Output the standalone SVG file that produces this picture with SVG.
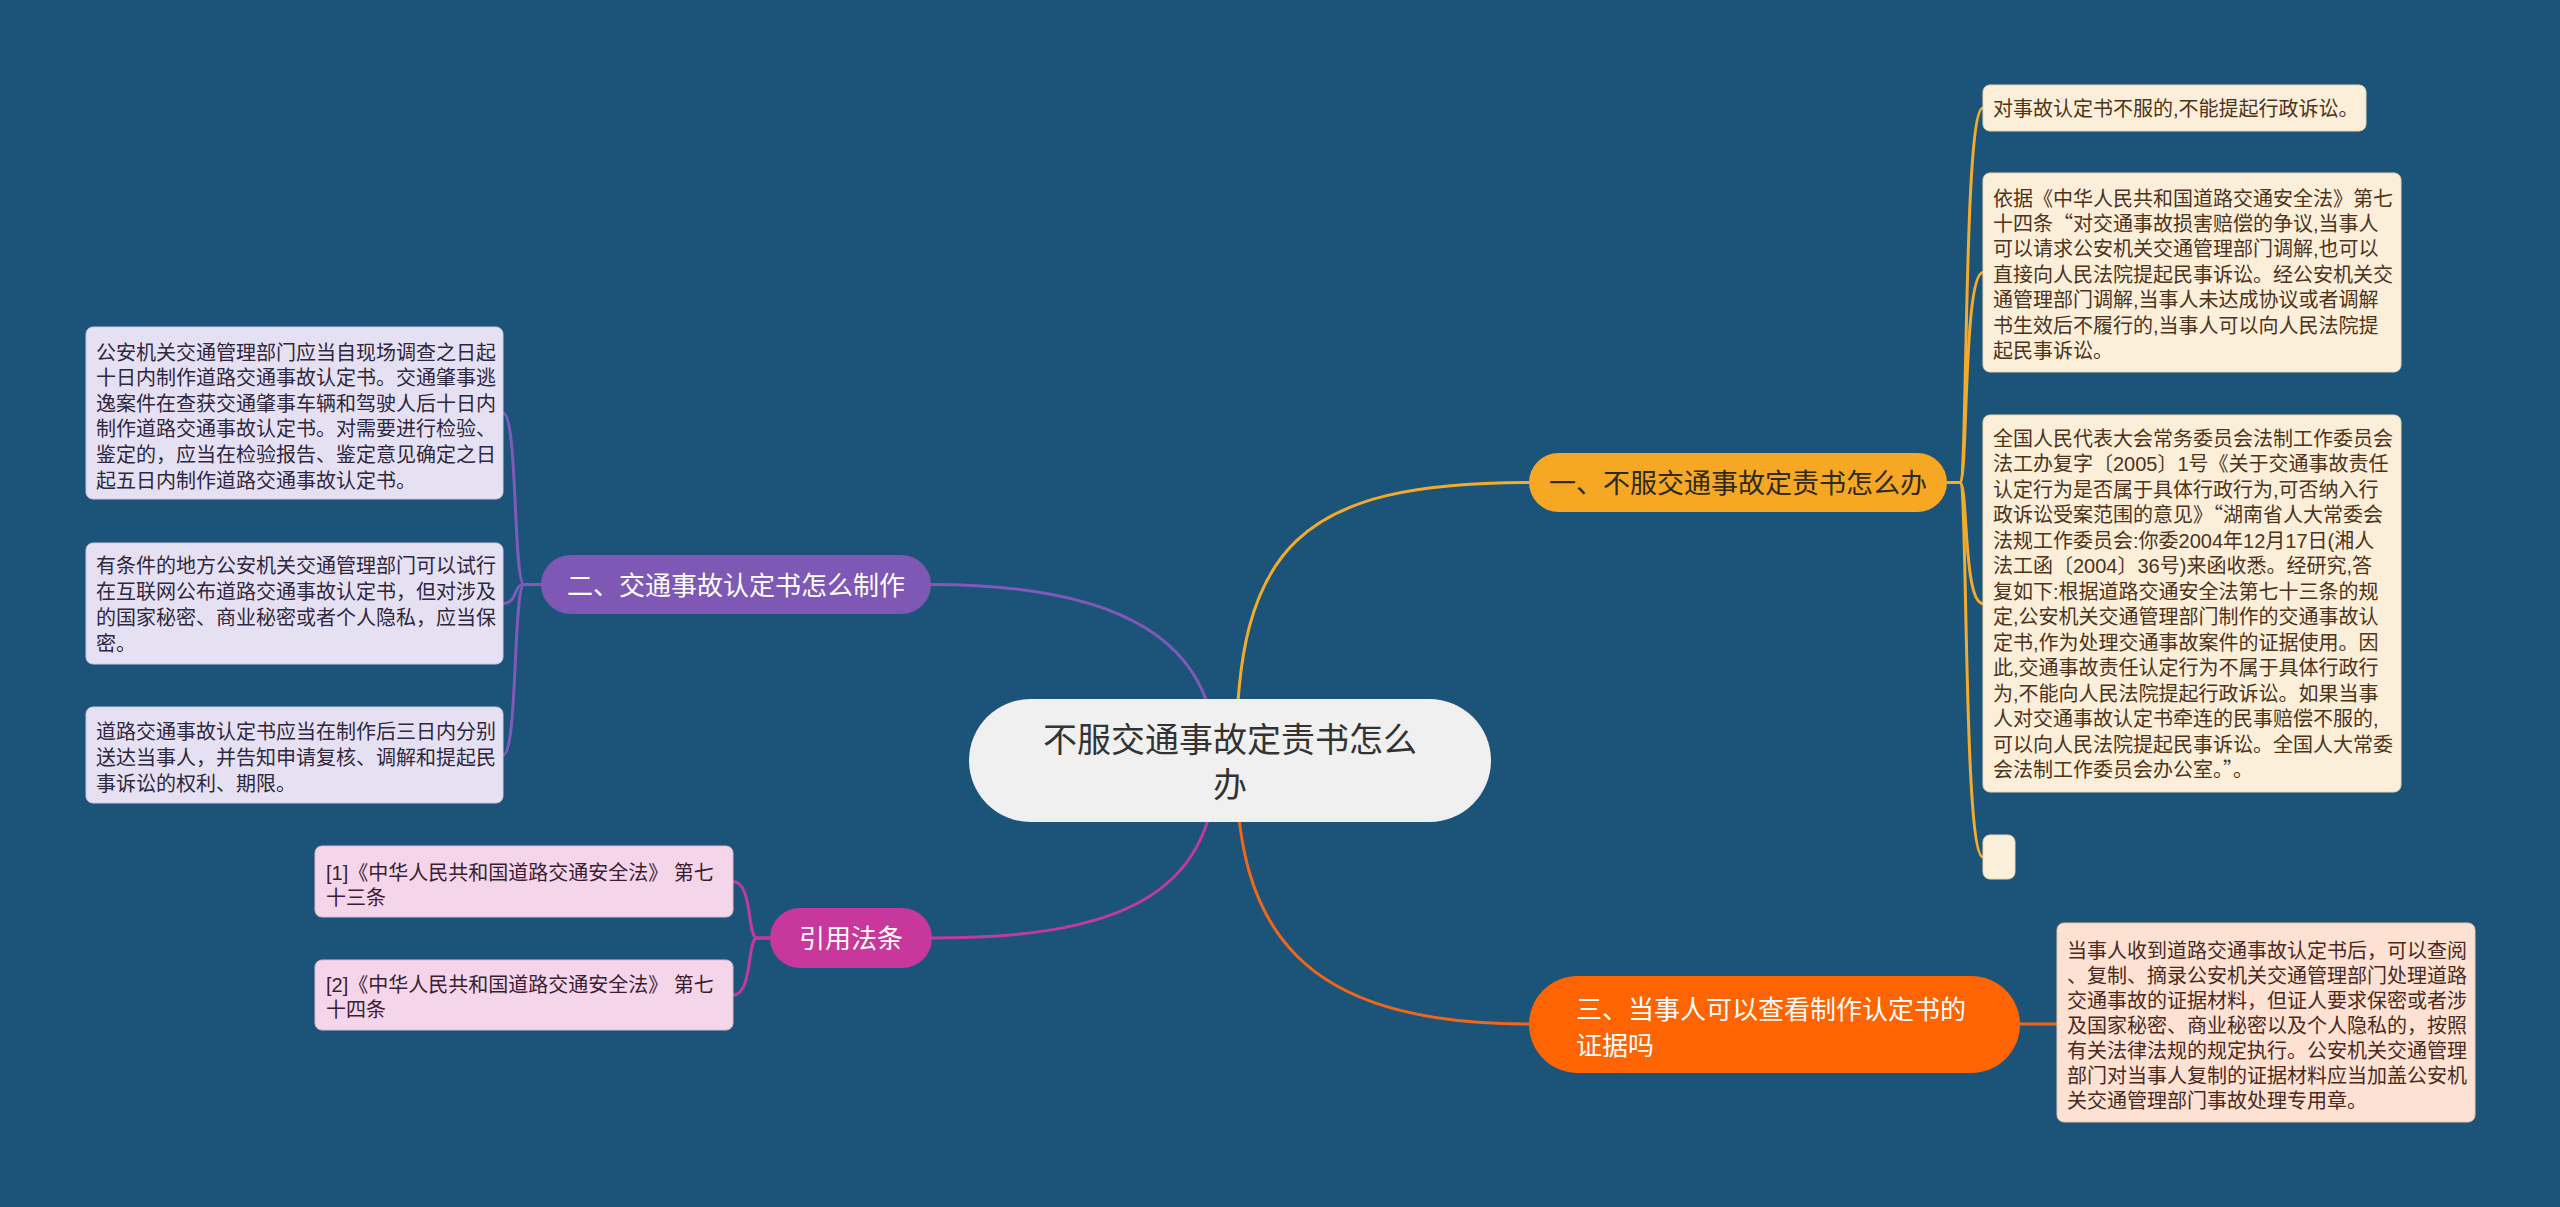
<svg xmlns="http://www.w3.org/2000/svg" width="2560" height="1207" viewBox="0 0 2560 1207">
<style>
text{font-family:"Liberation Sans","Noto Sans CJK SC",sans-serif}
.cjk{font-family:"Noto Sans CJK SC",sans-serif}
.conn{fill:none;stroke-width:3;stroke-linecap:round}
.y{stroke:#f2ab2c}
.p{stroke:#7f5ab8}
.m{stroke:#c23a9c}
.o{stroke:#f0661c}
.leafR{fill:#fcefd9;stroke:#e9d6b4;stroke-width:1}
.leafL{fill:#e6e1f2;stroke:#cfc6e6;stroke-width:1}
.leafP{fill:#f4d5ea;stroke:#e2b9d5;stroke-width:1}
.leafO{fill:#fde1d3;stroke:#ebc4b0;stroke-width:1}
.tR{font-size:20px;fill:#4d3319}
.tL{font-size:20px;fill:#2d2740}
.tP{font-size:20px;fill:#3b1d33}
.tO{font-size:20px;fill:#4a2a1c}
.tW{font-size:26px;fill:#ffffff}
</style>
<rect x="0" y="0" width="2560" height="1207" fill="#1b5478"/>
<g id="connectors">
<path class="conn y" d="M1236,760 C1236,545 1300,482.5 1529,482.5"/>
<path class="conn p" d="M1216,760 C1216,640 1120,584.5 931,584.5"/>
<path class="conn o" d="M1236,760 C1236,930 1300,1024 1529,1024"/>
<path class="conn m" d="M1216,760 C1216,900 1110,938 932,938"/>
<path class="conn y" d="M1947,482.5 H1960 C1968,482.5 1963,108 1983,108"/>
<path class="conn y" d="M1947,482.5 H1960 C1968,482.5 1963,272.5 1983,272.5"/>
<path class="conn y" d="M1947,482.5 H1960 C1968,482.5 1963,603.5 1983,603.5"/>
<path class="conn y" d="M1947,482.5 H1960 C1968,482.5 1963,857 1983,857"/>
<path class="conn p" d="M541,584.5 H524 C513,584.5 518,413 503,413"/>
<path class="conn p" d="M541,584.5 H524 C513,584.5 518,603.5 503,603.5"/>
<path class="conn p" d="M541,584.5 H524 C513,584.5 518,755 503,755"/>
<path class="conn m" d="M770,938 H757 C747,938 753,881.5 733,881.5"/>
<path class="conn m" d="M770,938 H757 C747,938 753,995 733,995"/>
<path class="conn o" d="M2020,1024 H2057"/>
</g>
<g id="root">
<rect x="969" y="699" width="522" height="123" rx="61.5" fill="#f0f0f0"/>
<text x="1230" y="752" font-size="34" fill="#333333" text-anchor="middle">不服交通事故定责书怎么</text>
<text x="1230" y="797" font-size="34" fill="#333333" text-anchor="middle">办</text>
</g>
<g id="branch1">
<rect x="1529" y="453" width="418" height="59" rx="29.5" fill="#f6a723"/>
<text x="1738" y="493" font-size="27" fill="#2e2a1e" text-anchor="middle">一、不服交通事故定责书怎么办</text>
</g>
<g id="branch2">
<rect x="541" y="555" width="390" height="59" rx="29.5" fill="#7f58b5"/>
<text class="tW" x="736" y="594.5" text-anchor="middle">二、交通事故认定书怎么制作</text>
</g>
<g id="branch3">
<rect x="1529" y="976" width="491" height="97" rx="48.5" fill="#fe6402"/>
<text class="tW" x="1576" y="1019">三、当事人可以查看制作认定书的</text>
<text class="tW" x="1576" y="1055">证据吗</text>
</g>
<g id="branch4">
<rect x="770" y="908" width="162" height="60" rx="30" fill="#c8379b"/>
<text class="tW" x="851" y="948" text-anchor="middle">引用法条</text>
</g>
<g id="leaf-r1">
<rect class="leafR" x="1983" y="85" width="383" height="46" rx="7"/>
<text class="tR" x="1993" y="115.5">对事故认定书不服的,不能提起行政诉讼。</text>
</g>
<g id="leaf-r2">
<rect class="leafR" x="1983" y="173" width="418" height="199" rx="7"/>
<text class="tR" x="1993" y="205.5">依据《中华人民共和国道路交通安全法》第七<tspan x="1993" dy="25.4">十四条<tspan class="cjk">“</tspan>对交通事故损害赔偿的争议,当事人</tspan><tspan x="1993" dy="25.4">可以请求公安机关交通管理部门调解,也可以</tspan><tspan x="1993" dy="25.4">直接向人民法院提起民事诉讼。经公安机关交</tspan><tspan x="1993" dy="25.4">通管理部门调解,当事人未达成协议或者调解</tspan><tspan x="1993" dy="25.4">书生效后不履行的,当事人可以向人民法院提</tspan><tspan x="1993" dy="25.4">起民事诉讼。</tspan></text>
</g>
<g id="leaf-r3">
<rect class="leafR" x="1983" y="415" width="418" height="377" rx="7"/>
<text class="tR" x="1993" y="445.6">全国人民代表大会常务委员会法制工作委员会<tspan x="1993" dy="25.5">法工办复字〔2005〕1号《关于交通事故责任</tspan><tspan x="1993" dy="25.5">认定行为是否属于具体行政行为,可否纳入行</tspan><tspan x="1993" dy="25.5">政诉讼受案范围的意见》<tspan class="cjk">“</tspan>湖南省人大常委会</tspan><tspan x="1993" dy="25.5">法规工作委员会:你委2004年12月17日(湘人</tspan><tspan x="1993" dy="25.5">法工函〔2004〕36号)来函收悉。经研究,答</tspan><tspan x="1993" dy="25.5">复如下:根据道路交通安全法第七十三条的规</tspan><tspan x="1993" dy="25.5">定,公安机关交通管理部门制作的交通事故认</tspan><tspan x="1993" dy="25.5">定书,作为处理交通事故案件的证据使用。因</tspan><tspan x="1993" dy="25.5">此,交通事故责任认定行为不属于具体行政行</tspan><tspan x="1993" dy="25.5">为,不能向人民法院提起行政诉讼。如果当事</tspan><tspan x="1993" dy="25.5">人对交通事故认定书牵连的民事赔偿不服的,</tspan><tspan x="1993" dy="25.5">可以向人民法院提起民事诉讼。全国人大常委</tspan><tspan x="1993" dy="25.5">会法制工作委员会办公室。<tspan class="cjk">”</tspan>。</tspan></text>
</g>
<g id="leaf-r4">
<rect class="leafR" x="1983" y="835" width="32" height="44" rx="7"/>
</g>
<g id="leaf-o1">
<rect class="leafO" x="2057" y="923" width="418" height="199" rx="7"/>
<text class="tO" x="2067" y="957.6">当事人收到道路交通事故认定书后，可以查阅<tspan x="2067" dy="25">、复制、摘录公安机关交通管理部门处理道路</tspan><tspan x="2067" dy="25">交通事故的证据材料，但证人要求保密或者涉</tspan><tspan x="2067" dy="25">及国家秘密、商业秘密以及个人隐私的，按照</tspan><tspan x="2067" dy="25">有关法律法规的规定执行。公安机关交通管理</tspan><tspan x="2067" dy="25">部门对当事人复制的证据材料应当加盖公安机</tspan><tspan x="2067" dy="25">关交通管理部门事故处理专用章。</tspan></text>
</g>
<g id="leaf-l1">
<rect class="leafL" x="86" y="327" width="417" height="172" rx="7"/>
<text class="tL" x="96" y="359.6">公安机关交通管理部门应当自现场调查之日起<tspan x="96" dy="25.6">十日内制作道路交通事故认定书。交通肇事逃</tspan><tspan x="96" dy="25.6">逸案件在查获交通肇事车辆和驾驶人后十日内</tspan><tspan x="96" dy="25.6">制作道路交通事故认定书。对需要进行检验、</tspan><tspan x="96" dy="25.6">鉴定的，应当在检验报告、鉴定意见确定之日</tspan><tspan x="96" dy="25.6">起五日内制作道路交通事故认定书。</tspan></text>
</g>
<g id="leaf-l2">
<rect class="leafL" x="86" y="543" width="417" height="121" rx="7"/>
<text class="tL" x="96" y="572.6">有条件的地方公安机关交通管理部门可以试行<tspan x="96" dy="26">在互联网公布道路交通事故认定书，但对涉及</tspan><tspan x="96" dy="26">的国家秘密、商业秘密或者个人隐私，应当保</tspan><tspan x="96" dy="26">密。</tspan></text>
</g>
<g id="leaf-l3">
<rect class="leafL" x="86" y="707" width="417" height="96" rx="7"/>
<text class="tL" x="96" y="738.6">道路交通事故认定书应当在制作后三日内分别<tspan x="96" dy="26">送达当事人，并告知申请复核、调解和提起民</tspan><tspan x="96" dy="26">事诉讼的权利、期限。</tspan></text>
</g>
<g id="leaf-p1">
<rect class="leafP" x="315" y="846" width="418" height="71" rx="7"/>
<text class="tP" x="326" y="879.6">[1]《中华人民共和国道路交通安全法》 第七<tspan x="326" dy="25.5">十三条</tspan></text>
</g>
<g id="leaf-p2">
<rect class="leafP" x="315" y="960" width="418" height="70" rx="7"/>
<text class="tP" x="326" y="991.6">[2]《中华人民共和国道路交通安全法》 第七<tspan x="326" dy="25.5">十四条</tspan></text>
</g>
</svg>
